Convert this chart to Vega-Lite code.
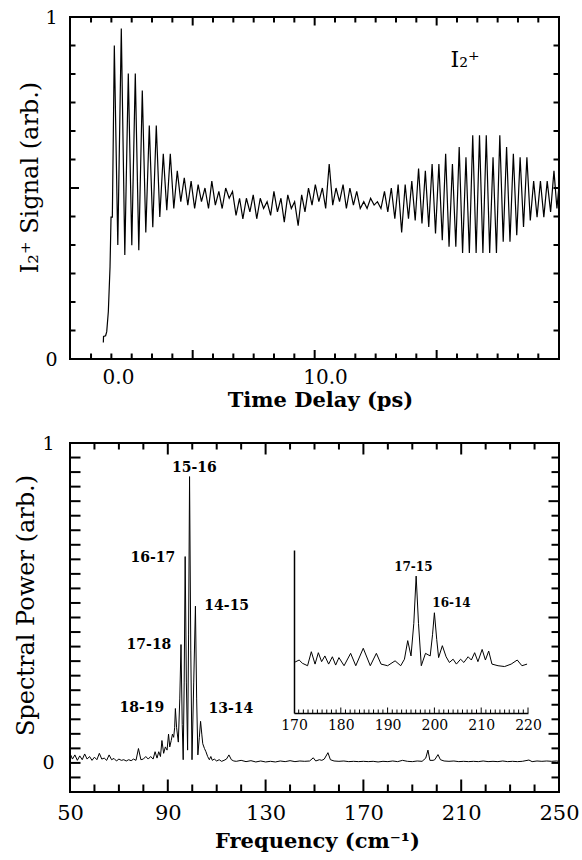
{
 "$schema": "https://vega.github.io/schema/vega-lite/v6.json",
 "padding": {"left": 13, "top": 7, "right": 2, "bottom": 2},
 "bounds": "flush",
 "spacing": 84,
 "config": {
   "font": "DejaVu Serif",
   "view": {"stroke": "black", "strokeWidth": 2},
   "axis": {"grid": false, "domain": false, "labelColor": "black", "titleColor": "black", "labelFont": "DejaVu Serif", "titleFont": "DejaVu Serif", "labelFlush": false, "labelOverlap": false},
   "point": {"filled": false, "opacity": 1, "strokeWidth": 2, "color": "black"},
   "text": {"font": "DejaVu Serif", "color": "black"}
 },
 "datasets": {
  "tt_x": [{"v":-1.304,"major":false},{"v":-0.322,"major":false},{"v":0.66,"major":false},{"v":1.642,"major":false},{"v":2.624,"major":false},{"v":3.606,"major":true},{"v":4.588,"major":false},{"v":5.57,"major":false},{"v":6.552,"major":false},{"v":7.534,"major":false},{"v":8.516,"major":false},{"v":9.498,"major":true},{"v":10.48,"major":false},{"v":11.462,"major":false},{"v":12.444,"major":false},{"v":13.426,"major":false},{"v":14.408,"major":false},{"v":15.39,"major":true},{"v":16.372,"major":false},{"v":17.354,"major":false},{"v":18.336,"major":false},{"v":19.318,"major":false},{"v":20.3,"major":false}],
  "tt_y": [{"v":0.08333,"major":false},{"v":0.16667,"major":false},{"v":0.25,"major":false},{"v":0.33333,"major":false},{"v":0.41667,"major":false},{"v":0.5,"major":true},{"v":0.58333,"major":false},{"v":0.66667,"major":false},{"v":0.75,"major":false},{"v":0.83333,"major":false},{"v":0.91667,"major":false}],
  "bt_x": [{"v":60,"major":false},{"v":70,"major":false},{"v":80,"major":false},{"v":90,"major":true},{"v":100,"major":false},{"v":110,"major":false},{"v":120,"major":false},{"v":130,"major":true},{"v":140,"major":false},{"v":150,"major":false},{"v":160,"major":false},{"v":170,"major":true},{"v":180,"major":false},{"v":190,"major":false},{"v":200,"major":false},{"v":210,"major":true},{"v":220,"major":false},{"v":230,"major":false},{"v":240,"major":false}],
  "bt_y": [{"v":0.95455,"major":false},{"v":0.90909,"major":false},{"v":0.86364,"major":false},{"v":0.81818,"major":true},{"v":0.77273,"major":false},{"v":0.72727,"major":false},{"v":0.68182,"major":false},{"v":0.63636,"major":true},{"v":0.59091,"major":false},{"v":0.54545,"major":false},{"v":0.5,"major":false},{"v":0.45455,"major":true},{"v":0.40909,"major":false},{"v":0.36364,"major":false},{"v":0.31818,"major":false},{"v":0.27273,"major":true},{"v":0.22727,"major":false},{"v":0.18182,"major":false},{"v":0.13636,"major":false},{"v":0.09091,"major":true},{"v":0.04545,"major":false},{"v":0,"major":false},{"v":-0.04545,"major":false}],
  "in_x": [{"v":171,"major":false},{"v":172,"major":false},{"v":173,"major":false},{"v":174,"major":false},{"v":175,"major":false},{"v":176,"major":false},{"v":177,"major":false},{"v":178,"major":false},{"v":179,"major":false},{"v":180,"major":true},{"v":181,"major":false},{"v":182,"major":false},{"v":183,"major":false},{"v":184,"major":false},{"v":185,"major":false},{"v":186,"major":false},{"v":187,"major":false},{"v":188,"major":false},{"v":189,"major":false},{"v":190,"major":true},{"v":191,"major":false},{"v":192,"major":false},{"v":193,"major":false},{"v":194,"major":false},{"v":195,"major":false},{"v":196,"major":false},{"v":197,"major":false},{"v":198,"major":false},{"v":199,"major":false},{"v":200,"major":true},{"v":201,"major":false},{"v":202,"major":false},{"v":203,"major":false},{"v":204,"major":false},{"v":205,"major":false},{"v":206,"major":false},{"v":207,"major":false},{"v":208,"major":false},{"v":209,"major":false},{"v":210,"major":true},{"v":211,"major":false},{"v":212,"major":false},{"v":213,"major":false},{"v":214,"major":false},{"v":215,"major":false},{"v":216,"major":false},{"v":217,"major":false},{"v":218,"major":false},{"v":219,"major":false},{"v":220,"major":true}]
 },
 "vconcat": [
  {
   "width": 489, "height": 342,
   "view": {"stroke": "black", "strokeWidth": 2},
   "layer": [
    {
     "data": {"values": [
      {"t":-0.71,"s":0.048},{"t":-0.70,"s":0.066},{"t":-0.60,"s":0.068},{"t":-0.546,"s":0.08},{"t":-0.469,"s":0.138},{"t":-0.386,"s":0.27},{"t":-0.338,"s":0.415},{"t":-0.275,"s":0.415},{"t":-0.227,"s":0.66},{"t":-0.179,"s":0.917},
      {"t":-0.011,"s":0.333},{"t":0.158,"s":0.966},{"t":0.327,"s":0.304},{"t":0.496,"s":0.835},{"t":0.665,"s":0.333},{"t":0.834,"s":0.835},{"t":1.003,"s":0.318},{"t":1.172,"s":0.785},{"t":1.341,"s":0.37},{"t":1.51,"s":0.683},{"t":1.679,"s":0.385},{"t":1.848,"s":0.683},{"t":2.017,"s":0.415},{"t":2.186,"s":0.60},{"t":2.355,"s":0.435},{"t":2.524,"s":0.60},{"t":2.693,"s":0.44},{"t":2.862,"s":0.55},{"t":3.031,"s":0.46},{"t":3.2,"s":0.53},
      {"t":3.37,"s":0.45},{"t":3.53,"s":0.52},{"t":3.70,"s":0.44},{"t":3.87,"s":0.51},{"t":4.03,"s":0.46},{"t":4.20,"s":0.50},{"t":4.37,"s":0.44},{"t":4.53,"s":0.52},{"t":4.70,"s":0.45},{"t":4.87,"s":0.49},{"t":5.03,"s":0.44},{"t":5.20,"s":0.50},{"t":5.37,"s":0.47},{"t":5.53,"s":0.49},{"t":5.70,"s":0.42},{"t":5.87,"s":0.47},{"t":6.03,"s":0.41},{"t":6.20,"s":0.47},{"t":6.37,"s":0.43},{"t":6.53,"s":0.48},{"t":6.70,"s":0.41},{"t":6.87,"s":0.47},{"t":7.03,"s":0.44},{"t":7.20,"s":0.46},{"t":7.37,"s":0.42},{"t":7.53,"s":0.49},{"t":7.70,"s":0.43},{"t":7.87,"s":0.47},{"t":8.03,"s":0.40},{"t":8.20,"s":0.48},{"t":8.37,"s":0.44},{"t":8.53,"s":0.46},{"t":8.70,"s":0.39},{"t":8.87,"s":0.48},{"t":9.03,"s":0.43},{"t":9.20,"s":0.50},{"t":9.37,"s":0.45},{"t":9.53,"s":0.51},{"t":9.70,"s":0.46},{"t":9.87,"s":0.50},{"t":10.03,"s":0.44},{"t":10.20,"s":0.57},{"t":10.37,"s":0.45},{"t":10.53,"s":0.50},{"t":10.70,"s":0.46},{"t":10.87,"s":0.51},{"t":11.03,"s":0.44},{"t":11.20,"s":0.50},{"t":11.37,"s":0.45},{"t":11.53,"s":0.49},{"t":11.70,"s":0.44},{"t":11.87,"s":0.46},{"t":12.03,"s":0.44},{"t":12.20,"s":0.47},{"t":12.37,"s":0.45},{"t":12.53,"s":0.46},{"t":12.70,"s":0.44},{"t":12.87,"s":0.49},{"t":13.03,"s":0.43},{"t":13.20,"s":0.50},{"t":13.37,"s":0.41},{"t":13.53,"s":0.51},{"t":13.70,"s":0.37},{"t":13.87,"s":0.51},{"t":14.03,"s":0.41},
      {"t":14.19,"s":0.52},{"t":14.354,"s":0.405},{"t":14.517,"s":0.557},{"t":14.681,"s":0.396},{"t":14.844,"s":0.55},{"t":15.008,"s":0.386},{"t":15.171,"s":0.57},{"t":15.335,"s":0.367},{"t":15.498,"s":0.57},{"t":15.662,"s":0.347},{"t":15.825,"s":0.60},{"t":15.989,"s":0.328},{"t":16.152,"s":0.57},{"t":16.316,"s":0.328},{"t":16.479,"s":0.62},{"t":16.643,"s":0.31},{"t":16.806,"s":0.59},{"t":16.97,"s":0.31},{"t":17.133,"s":0.654},{"t":17.297,"s":0.31},{"t":17.46,"s":0.654},{"t":17.624,"s":0.31},{"t":17.787,"s":0.654},{"t":17.951,"s":0.31},{"t":18.114,"s":0.59},{"t":18.278,"s":0.31},{"t":18.441,"s":0.654},{"t":18.605,"s":0.343},{"t":18.768,"s":0.62},{"t":18.932,"s":0.343},{"t":19.095,"s":0.60},{"t":19.259,"s":0.362},{"t":19.422,"s":0.59},{"t":19.586,"s":0.386},{"t":19.749,"s":0.59},{"t":19.913,"s":0.405},{"t":20.076,"s":0.52},{"t":20.24,"s":0.415},{"t":20.403,"s":0.52},{"t":20.567,"s":0.415},{"t":20.73,"s":0.52},{"t":20.894,"s":0.43},{"t":21.057,"s":0.55},{"t":21.2,"s":0.44},{"t":21.29,"s":0.50}
     ]},
     "mark": {"type": "line", "strokeWidth": 1.2, "color": "black"},
     "encoding": {
      "x": {"field": "t", "type": "quantitative", "scale": {"domain": [-2.32, 21.3], "nice": false, "zero": false},
            "axis": {"orient": "bottom", "values": [0, 10], "ticks": false, "labelExpr": "datum.value == 0 ? '0.0' : '10.0'", "labelFontSize": 20, "labelPadding": 8, "title": "Time Delay (ps)", "titleFontSize": 21, "titleFontWeight": "bold", "titleX": 250, "titleY": 47, "titleBaseline": "alphabetic"}},
      "y": {"field": "s", "type": "quantitative", "scale": {"domain": [0, 1], "nice": false, "zero": false},
            "axis": {"orient": "left", "values": [0, 1], "ticks": false, "labelExpr": "datum.value == 0 ? '0' : '1'", "labelFontSize": 19, "labelPadding": 13, "title": "I₂⁺  Signal (arb.)", "titleFontSize": 24, "titleFontWeight": "normal", "titleX": -33, "titleY": 160, "titleBaseline": "alphabetic"}}
     }
    },
    {
     "data": {"name": "tt_x"},
     "mark": {"type": "point", "shape": "M0,0L0,-1", "filled": false, "strokeWidth": 2, "color": "black", "opacity": 1},
     "encoding": {
      "x": {"field": "v", "type": "quantitative", "scale": {"domain": [-2.32, 21.3], "nice": false, "zero": false}, "axis": null},
      "y": {"datum": 0, "type": "quantitative", "scale": {"domain": [0, 1], "nice": false, "zero": false}, "axis": null},
      "size": {"condition": {"test": "datum.major", "value": 324}, "value": 121}
     }
    },
    {
     "data": {"name": "tt_x"},
     "mark": {"type": "point", "shape": "M0,0L0,1", "filled": false, "strokeWidth": 2, "color": "black", "opacity": 1},
     "encoding": {
      "x": {"field": "v", "type": "quantitative", "scale": {"domain": [-2.32, 21.3], "nice": false, "zero": false}, "axis": null},
      "y": {"datum": 1, "type": "quantitative", "scale": {"domain": [0, 1], "nice": false, "zero": false}, "axis": null},
      "size": {"condition": {"test": "datum.major", "value": 289}, "value": 121}
     }
    },
    {
     "data": {"name": "tt_y"},
     "mark": {"type": "point", "shape": "M0,0L1,0", "filled": false, "strokeWidth": 2, "color": "black", "opacity": 1},
     "encoding": {
      "x": {"datum": -2.32, "type": "quantitative", "scale": {"domain": [-2.32, 21.3], "nice": false, "zero": false}, "axis": null},
      "y": {"field": "v", "type": "quantitative", "scale": {"domain": [0, 1], "nice": false, "zero": false}, "axis": null},
      "size": {"condition": {"test": "datum.major", "value": 324}, "value": 121}
     }
    },
    {
     "data": {"name": "tt_y"},
     "mark": {"type": "point", "shape": "M0,0L-1,0", "filled": false, "strokeWidth": 2, "color": "black", "opacity": 1},
     "encoding": {
      "x": {"datum": 21.3, "type": "quantitative", "scale": {"domain": [-2.32, 21.3], "nice": false, "zero": false}, "axis": null},
      "y": {"field": "v", "type": "quantitative", "scale": {"domain": [0, 1], "nice": false, "zero": false}, "axis": null},
      "size": {"value": 121}
     }
    },
    {
     "data": {"values": [{"t": 16.76, "s": 0.873, "label": "I₂⁺"}]},
     "mark": {"type": "text", "fontSize": 22, "align": "center", "baseline": "middle"},
     "encoding": {
      "x": {"field": "t", "type": "quantitative", "scale": {"domain": [-2.32, 21.3], "nice": false, "zero": false}, "axis": null},
      "y": {"field": "s", "type": "quantitative", "scale": {"domain": [0, 1], "nice": false, "zero": false}, "axis": null},
      "text": {"field": "label"}
     }
    }
   ],
   "resolve": {"axis": {"x": "independent", "y": "independent"}}
  },
  {
   "width": 489, "height": 349,
   "view": {"stroke": "black", "strokeWidth": 2},
   "layer": [
    {
     "layer": [
      {
       "data": {"values": [
        {"f":50,"p":0.03},{"f":51,"p":0.012},{"f":52,"p":0.025},{"f":53,"p":0.008},{"f":54,"p":0.022},{"f":55,"p":0.01},{"f":56,"p":0.028},{"f":57,"p":0.012},{"f":58,"p":0.02},{"f":59,"p":0.008},{"f":60,"p":0.018},{"f":61,"p":0.01},{"f":62,"p":0.03},{"f":63,"p":0.012},{"f":64,"p":0.015},{"f":65,"p":0.008},{"f":66,"p":0.025},{"f":67,"p":0.01},{"f":68,"p":0.014},{"f":69,"p":0.006},{"f":70,"p":0.012},{"f":71,"p":0.008},{"f":72,"p":0.01},{"f":73,"p":0.006},{"f":74,"p":0.01},{"f":75,"p":0.007},{"f":76,"p":0.012},{"f":77,"p":0.008},{"f":78,"p":0.045},{"f":79,"p":0.01},{"f":80,"p":0.012},{"f":81,"p":0.02},{"f":82,"p":0.012},{"f":83,"p":0.02},{"f":84,"p":0.012},{"f":84.8,"p":0.035},{"f":85.6,"p":0.015},{"f":86.3,"p":0.035},{"f":87.0,"p":0.02},{"f":87.6,"p":0.07},{"f":88.3,"p":0.03},{"f":89.0,"p":0.05},{"f":89.7,"p":0.04},{"f":90.3,"p":0.09},{"f":90.8,"p":0.05},{"f":91.4,"p":0.07},{"f":91.9,"p":0.09},{"f":92.4,"p":0.08},{"f":92.8,"p":0.11},{"f":93.1,"p":0.17},{"f":93.6,"p":0.11},{"f":94.3,"p":0.065},{"f":94.9,"p":0.2},{"f":95.4,"p":0.37},{"f":95.9,"p":0.12},{"f":96.3,"p":0.01},{"f":96.7,"p":0.25},{"f":97.1,"p":0.645},{"f":97.6,"p":0.25},{"f":98.1,"p":0.04},{"f":98.5,"p":0.4},{"f":98.9,"p":0.895},{"f":99.4,"p":0.35},{"f":99.9,"p":0.01},{"f":100.6,"p":0.25},{"f":101.3,"p":0.49},{"f":101.8,"p":0.2},{"f":102.3,"p":0.025},{"f":102.9,"p":0.08},{"f":103.4,"p":0.13},{"f":103.9,"p":0.09},{"f":104.3,"p":0.06},{"f":105.0,"p":0.045},{"f":105.6,"p":0.035},{"f":106.3,"p":0.02},{"f":107.0,"p":0.01},{"f":107.6,"p":0.02},{"f":108.2,"p":0.008},{"f":109,"p":0.012},{"f":110,"p":0.006},{"f":111,"p":0.01},{"f":112,"p":0.005},{"f":113,"p":0.008},{"f":114,"p":0.012},{"f":115,"p":0.025},{"f":116,"p":0.01},{"f":117,"p":0.006},{"f":118,"p":0.005},{"f":120,"p":0.008},{"f":122,"p":0.004},{"f":124,"p":0.007},{"f":126,"p":0.003},{"f":128,"p":0.006},{"f":130,"p":0.003},{"f":132,"p":0.005},{"f":134,"p":0.003},{"f":136,"p":0.006},{"f":138,"p":0.004},{"f":140,"p":0.007},{"f":142,"p":0.004},{"f":144,"p":0.006},{"f":146,"p":0.005},{"f":148,"p":0.006},{"f":149.5,"p":0.016},{"f":150.5,"p":0.006},{"f":152,"p":0.01},{"f":153,"p":0.008},{"f":154,"p":0.012},{"f":155.5,"p":0.032},{"f":156.5,"p":0.01},{"f":158,"p":0.006},{"f":160,"p":0.005},{"f":162,"p":0.006},{"f":164,"p":0.004},{"f":166,"p":0.005},{"f":168,"p":0.004},{"f":170,"p":0.005},{"f":172,"p":0.004},{"f":174,"p":0.005},{"f":176,"p":0.003},{"f":178,"p":0.005},{"f":180,"p":0.004},{"f":182,"p":0.006},{"f":184,"p":0.004},{"f":186,"p":0.008},{"f":188,"p":0.005},{"f":190,"p":0.004},{"f":192,"p":0.006},{"f":194,"p":0.005},{"f":195.5,"p":0.015},{"f":196.4,"p":0.04},{"f":197.2,"p":0.008},{"f":198.5,"p":0.008},{"f":199.2,"p":0.01},{"f":200.5,"p":0.026},{"f":201.5,"p":0.01},{"f":203,"p":0.006},{"f":205,"p":0.005},{"f":207,"p":0.006},{"f":209,"p":0.004},{"f":211,"p":0.005},{"f":213,"p":0.004},{"f":215,"p":0.005},{"f":217,"p":0.004},{"f":219,"p":0.006},{"f":221,"p":0.004},{"f":223,"p":0.005},{"f":225,"p":0.004},{"f":227,"p":0.006},{"f":229,"p":0.004},{"f":231,"p":0.005},{"f":233,"p":0.004},{"f":235,"p":0.005},{"f":237.7,"p":0.009},{"f":239,"p":0.004},{"f":241,"p":0.006},{"f":243,"p":0.005},{"f":245,"p":0.006},{"f":247,"p":0.005},{"f":249,"p":0.006},{"f":250,"p":0.005}
       ]},
       "mark": {"type": "line", "strokeWidth": 1, "color": "black"},
       "encoding": {
        "x": {"field": "f", "type": "quantitative", "scale": {"domain": [50, 250], "nice": false, "zero": false},
              "axis": {"orient": "bottom", "values": [50, 90, 130, 170, 210, 250], "ticks": false, "labelFontSize": 21, "labelPadding": 10, "title": "Frequency (cm⁻¹)", "titleFontSize": 21, "titleFontWeight": "bold", "titleX": 247, "titleY": 55, "titleBaseline": "alphabetic"}},
        "y": {"field": "p", "type": "quantitative", "scale": {"domain": [-0.090909, 1], "nice": false, "zero": false},
              "axis": {"orient": "left", "values": [0, 1], "ticks": false, "labelExpr": "datum.value == 0 ? '0' : '1'", "labelFontSize": 19, "labelPadding": 16, "title": "Spectral Power (arb.)", "titleFontSize": 24, "titleFontWeight": "normal", "titleX": -37, "titleY": 162, "titleBaseline": "alphabetic"}}
       }
      },
      {
       "data": {"name": "bt_x"},
       "mark": {"type": "point", "shape": "M0,0L0,-1", "filled": false, "strokeWidth": 2, "color": "black", "opacity": 1},
       "encoding": {
        "x": {"field": "v", "type": "quantitative", "scale": {"domain": [50, 250], "nice": false, "zero": false}, "axis": null},
        "y": {"datum": -0.090909, "type": "quantitative", "scale": {"domain": [-0.090909, 1], "nice": false, "zero": false}, "axis": null},
        "size": {"condition": {"test": "datum.major", "value": 625}, "value": 225}
       }
      },
      {
       "data": {"name": "bt_x"},
       "mark": {"type": "point", "shape": "M0,0L0,1", "filled": false, "strokeWidth": 2, "color": "black", "opacity": 1},
       "encoding": {
        "x": {"field": "v", "type": "quantitative", "scale": {"domain": [50, 250], "nice": false, "zero": false}, "axis": null},
        "y": {"datum": 1, "type": "quantitative", "scale": {"domain": [-0.090909, 1], "nice": false, "zero": false}, "axis": null},
        "size": {"condition": {"test": "datum.major", "value": 529}, "value": 169}
       }
      },
      {
       "data": {"name": "bt_y"},
       "mark": {"type": "point", "shape": "M0,0L1,0", "filled": false, "strokeWidth": 2, "color": "black", "opacity": 1},
       "encoding": {
        "x": {"datum": 50, "type": "quantitative", "scale": {"domain": [50, 250], "nice": false, "zero": false}, "axis": null},
        "y": {"field": "v", "type": "quantitative", "scale": {"domain": [-0.090909, 1], "nice": false, "zero": false}, "axis": null},
        "size": {"value": 441}
       }
      },
      {
       "data": {"name": "bt_y"},
       "mark": {"type": "point", "shape": "M0,0L-1,0", "filled": false, "strokeWidth": 2, "color": "black", "opacity": 1},
       "encoding": {
        "x": {"datum": 250, "type": "quantitative", "scale": {"domain": [50, 250], "nice": false, "zero": false}, "axis": null},
        "y": {"field": "v", "type": "quantitative", "scale": {"domain": [-0.090909, 1], "nice": false, "zero": false}, "axis": null},
        "size": {"condition": {"test": "datum.major", "value": 441}, "value": 225}
       }
      },
      {
       "data": {"values": [
        {"f": 100.9, "p": 0.923, "label": "15-16"},
        {"f": 83.9, "p": 0.642, "label": "16-17"},
        {"f": 114.1, "p": 0.489, "label": "14-15"},
        {"f": 82.3, "p": 0.369, "label": "17-18"},
        {"f": 79.4, "p": 0.173, "label": "18-19"},
        {"f": 115.8, "p": 0.169, "label": "13-14"}
       ]},
       "mark": {"type": "text", "fontSize": 14, "fontWeight": "bold", "align": "center", "baseline": "middle"},
       "encoding": {
        "x": {"field": "f", "type": "quantitative", "scale": {"domain": [50, 250], "nice": false, "zero": false}, "axis": null},
        "y": {"field": "p", "type": "quantitative", "scale": {"domain": [-0.090909, 1], "nice": false, "zero": false}, "axis": null},
        "text": {"field": "label"}
       }
      }
     ],
     "resolve": {"axis": {"x": "independent", "y": "independent"}}
    },
    {
     "layer": [
      {
       "data": {"values": [
        {"f":170.0,"p":0.31},{"f":170.4,"p":0.315},{"f":171.1,"p":0.325},{"f":171.8,"p":0.305},{"f":172.9,"p":0.29},{"f":173.7,"p":0.376},{"f":174.5,"p":0.30},{"f":175.2,"p":0.37},{"f":175.9,"p":0.315},{"f":176.6,"p":0.35},{"f":177.4,"p":0.30},{"f":178.2,"p":0.345},{"f":178.9,"p":0.294},{"f":179.6,"p":0.34},{"f":180.7,"p":0.29},{"f":182.1,"p":0.366},{"f":183.2,"p":0.29},{"f":184.8,"p":0.397},{"f":186.3,"p":0.29},{"f":187.6,"p":0.366},{"f":188.6,"p":0.30},{"f":190.0,"p":0.29},{"f":191.6,"p":0.32},{"f":192.8,"p":0.29},{"f":193.6,"p":0.33},{"f":194.3,"p":0.444},{"f":195.0,"p":0.35},{"f":195.6,"p":0.55},{"f":196.1,"p":0.84},{"f":196.6,"p":0.55},{"f":197.2,"p":0.29},{"f":198.1,"p":0.366},{"f":199.1,"p":0.35},{"f":199.6,"p":0.48},{"f":200.0,"p":0.615},{"f":200.5,"p":0.45},{"f":200.9,"p":0.34},{"f":201.7,"p":0.413},{"f":202.5,"p":0.345},{"f":203.2,"p":0.31},{"f":204.0,"p":0.33},{"f":204.7,"p":0.30},{"f":205.6,"p":0.33},{"f":206.3,"p":0.31},{"f":207.2,"p":0.345},{"f":207.9,"p":0.325},{"f":208.6,"p":0.37},{"f":209.3,"p":0.315},{"f":210.2,"p":0.39},{"f":210.9,"p":0.325},{"f":211.6,"p":0.38},{"f":212.3,"p":0.30},{"f":213.6,"p":0.29},{"f":215.0,"p":0.285},{"f":216.4,"p":0.30},{"f":217.7,"p":0.325},{"f":218.7,"p":0.29},{"f":219.8,"p":0.30}
       ]},
       "mark": {"type": "line", "strokeWidth": 1, "color": "black"},
       "encoding": {
        "x": {"field": "f", "type": "quantitative", "scale": {"domain": [170, 220], "range": [224, 458], "nice": false, "zero": false},
              "axis": {"orient": "bottom", "offset": -79, "values": [170, 180, 190, 200, 210, 220], "ticks": false, "domain": true, "domainColor": "black", "domainWidth": 1.5, "labelFontSize": 14, "labelPadding": 5, "title": null}},
        "y": {"field": "p", "type": "quantitative", "scale": {"domain": [0, 1], "range": [270, 107], "nice": false, "zero": false},
              "axis": {"orient": "left", "offset": -224, "domain": true, "domainColor": "black", "domainWidth": 1.5, "ticks": false, "labels": false, "title": null}}
       }
      },
      {
       "data": {"name": "in_x"},
       "mark": {"type": "point", "shape": "M0,0L0,-1", "filled": false, "strokeWidth": 1, "color": "black", "opacity": 1},
       "encoding": {
        "x": {"field": "v", "type": "quantitative", "scale": {"domain": [170, 220], "range": [224, 458], "nice": false, "zero": false}, "axis": null},
        "y": {"datum": 0, "type": "quantitative", "scale": {"domain": [0, 1], "range": [270, 107], "nice": false, "zero": false}, "axis": null},
        "size": {"condition": {"test": "datum.major", "value": 121}, "value": 49}
       }
      },
      {
       "data": {"values": [
        {"f": 195.5, "p": 0.898, "label": "17-15"},
        {"f": 203.65, "p": 0.677, "label": "16-14"}
       ]},
       "mark": {"type": "text", "fontSize": 12, "fontWeight": "bold", "align": "center", "baseline": "middle"},
       "encoding": {
        "x": {"field": "f", "type": "quantitative", "scale": {"domain": [170, 220], "range": [224, 458], "nice": false, "zero": false}, "axis": null},
        "y": {"field": "p", "type": "quantitative", "scale": {"domain": [0, 1], "range": [270, 107], "nice": false, "zero": false}, "axis": null},
        "text": {"field": "label"}
       }
      }
     ],
     "resolve": {"axis": {"x": "independent", "y": "independent"}}
    }
   ],
   "resolve": {"scale": {"x": "independent", "y": "independent"}, "axis": {"x": "independent", "y": "independent"}}
  }
 ]
}
